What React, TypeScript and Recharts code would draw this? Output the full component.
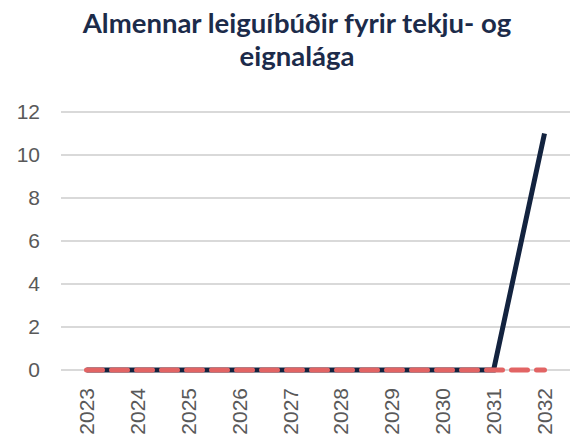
import { LineChart, Line, XAxis, YAxis, CartesianGrid } from "recharts";

const years = ["2023", "2024", "2025", "2026", "2027", "2028", "2029", "2030", "2031", "2032"];
const actual = [0, 0, 0, 0, 0, 0, 0, 0, 0, 11];
const plan = [0, 0, 0, 0, 0, 0, 0, 0, 0, 0];
const yTicks = [0, 2, 4, 6, 8, 10, 12];

const data = years.map((year, i) => ({ year, actual: actual[i], plan: plan[i] }));

const YearTick = ({ x, y, payload }: any) => (
    <text
        x={x}
        y={y + 16}
        transform={`rotate(-90 ${x} ${y + 16})`}
        textAnchor="end"
        dy="0.36em"
        fontSize={21}
        fontFamily="'Liberation Sans', Arial, sans-serif"
        fill="#595959"
    >
        {payload.value}
    </text>
);

export default function App() {
    return (
        <div style={{ position: "absolute", left: 0, top: 0, width: 570, height: 439, background: "#fff" }}>
            <div
                style={{
                    position: "absolute",
                    left: 12,
                    top: 0,
                    width: 570,
                    paddingTop: 6,
                    textAlign: "center",
                    fontFamily: "Lato, sans-serif",
                    fontWeight: 700,
                    fontSize: 27.5,
                    lineHeight: "33px",
                    color: "#1c2b4a",
                    whiteSpace: "nowrap",
                }}
            >
                Almennar leiguíbúðir fyrir tekju- og
                <br />
                eignalága
            </div>
            <LineChart width={570} height={439} data={data} margin={{ top: 112, right: 0, left: 0, bottom: 0 }}>
                <CartesianGrid vertical={false} stroke="#d9d9d9" strokeWidth={2} />
                <XAxis
                    dataKey="year"
                    height={69}
                    padding={{ left: 25.5, right: 25.5 }}
                    axisLine={false}
                    tickLine={false}
                    tickSize={0}
                    interval={0}
                    tick={<YearTick />}
                />
                <YAxis
                    width={61}
                    domain={[0, 12]}
                    ticks={yTicks}
                    axisLine={false}
                    tickLine={false}
                    tickSize={0}
                    tickMargin={21}
                    tick={{ fontSize: 21, fill: "#595959", fontFamily: "'Liberation Sans', Arial, sans-serif" }}
                />
                <Line
                    type="linear"
                    dataKey="actual"
                    stroke="#13233f"
                    strokeWidth={5}
                    dot={false}
                    isAnimationActive={false}
                />
                <Line
                    type="linear"
                    dataKey="plan"
                    stroke="#e26464"
                    strokeWidth={5}
                    strokeDasharray="16 9"
                    strokeLinecap="round"
                    dot={false}
                    isAnimationActive={false}
                />
            </LineChart>
        </div>
    );
}
